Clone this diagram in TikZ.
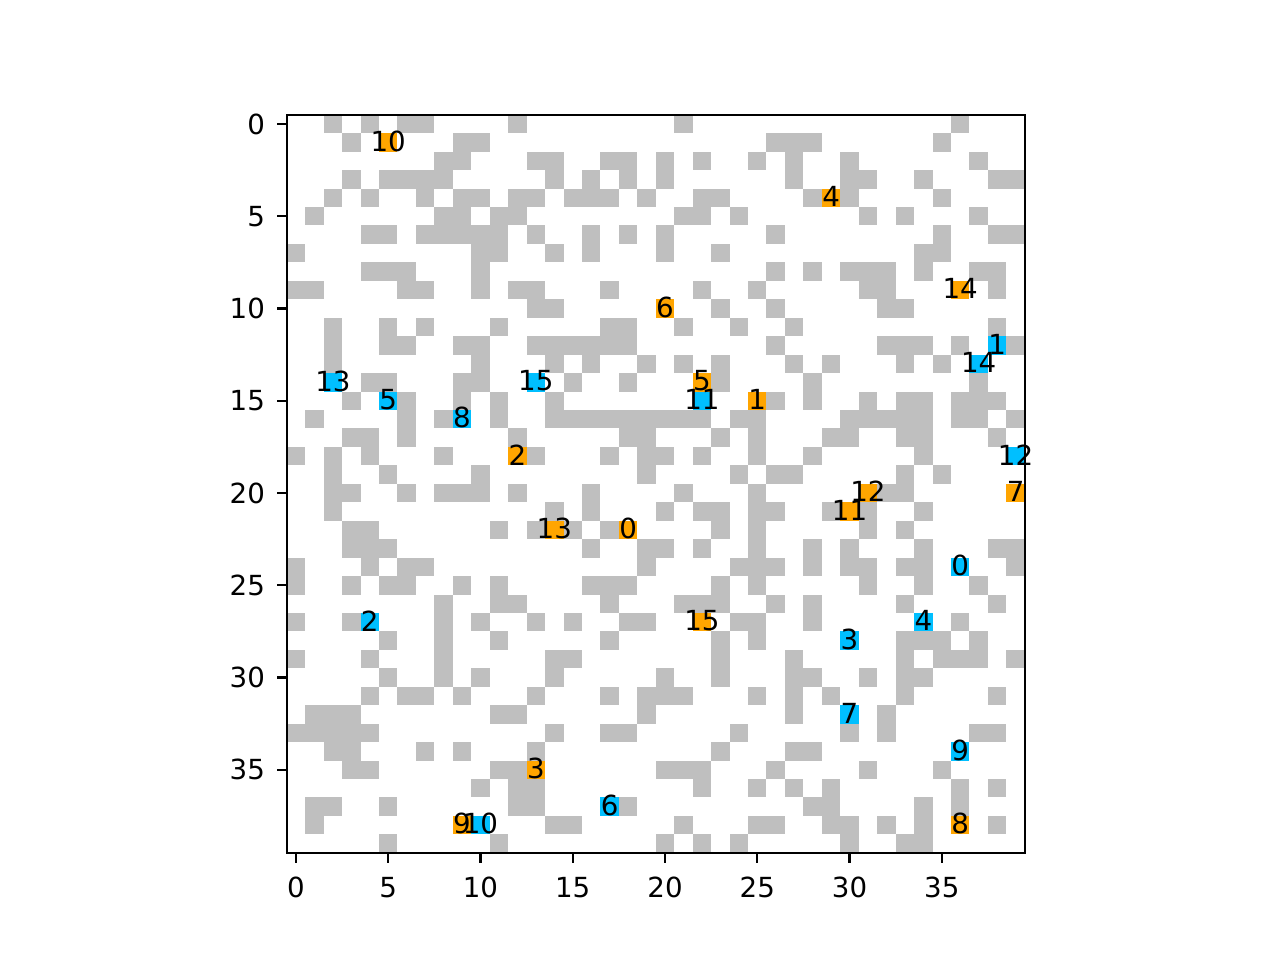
\documentclass[tikz,border=0pt]{standalone}
\usepackage{fontspec}
\setmainfont{DejaVu Sans}
\usepackage{tikz}
\definecolor{obstgray}{RGB}{191,191,191}
\definecolor{startorange}{RGB}{255,165,0}
\definecolor{goalblue}{RGB}{0,191,255}
\tikzset{
    obst/.style={fill=obstgray},
    startcell/.style={fill=startorange},
    goalcell/.style={fill=goalblue},
    celllabel/.style={inner sep=0pt, yshift=0.5pt, font=\fontsize{10}{12}\selectfont},
    ticklabel/.style={inner sep=0pt, font=\fontsize{10}{12}\selectfont},
    axisline/.style={line width=0.8pt, black}
}

\begin{document}
\begin{tikzpicture}[x=0.23432cm, y=-0.23432cm]
    \useasboundingbox (-16.04,-6.72) rectangle (53.33,45.31);
    % obstacles, one row at a time
    \foreach \r/\cs in {
        0/{2,4,6,7,12,21,36},
        1/{3,9,10,26,27,28,35},
        2/{8,9,13,14,17,18,20,22,25,27,30,37},
        3/{3,5,6,7,8,14,16,18,20,27,30,31,34,38,39},
        4/{2,4,7,9,10,12,13,15,16,17,19,22,23,28,30,35},
        5/{1,8,9,11,12,21,22,24,31,33,37},
        6/{4,5,7,8,9,10,11,13,16,18,20,26,35,38,39},
        7/{0,10,11,14,16,20,23,34,35},
        8/{4,5,6,10,26,28,30,31,32,34,37,38},
        9/{0,1,6,7,10,12,13,17,22,25,31,32,38},
        10/{13,14,23,26,32,33},
        11/{2,5,7,11,17,18,21,24,27,38},
        12/{2,5,6,9,10,13,14,15,16,17,18,26,32,33,34,36,39},
        13/{2,10,14,16,19,21,23,27,29,33,35},
        14/{4,5,9,10,15,18,23,28,37},
        15/{3,6,9,11,14,26,28,31,33,34,36,37,38},
        16/{1,6,8,11,14,15,16,17,18,19,20,21,22,24,25,30,31,32,33,34,36,37,39},
        17/{3,4,6,12,18,19,23,25,29,30,33,34,38},
        18/{0,2,4,8,13,17,19,20,22,25,28,34},
        19/{2,5,10,19,24,26,27,33,35},
        20/{2,3,6,8,9,10,12,16,21,25,32,33},
        21/{2,14,16,20,22,23,25,26,29,31,34},
        22/{3,4,11,13,15,17,23,25,31,33},
        23/{3,4,5,16,19,20,22,25,28,30,34,38,39},
        24/{0,4,6,7,19,24,25,26,28,30,31,33,34,39},
        25/{0,3,5,6,9,11,16,17,18,23,25,31,34,37},
        26/{8,11,12,17,21,22,23,26,28,33,38},
        27/{0,3,8,10,13,15,18,19,24,25,28,36},
        28/{5,8,11,17,23,25,33,34,35,37},
        29/{0,4,8,14,15,23,27,33,35,36,37,39},
        30/{5,8,10,14,20,23,27,28,31,33,34},
        31/{4,6,7,9,13,17,19,20,21,25,27,29,33,38},
        32/{1,2,3,11,12,19,27,32},
        33/{0,1,2,3,4,14,17,18,24,30,32,37,38},
        34/{2,3,7,9,13,23,27,28},
        35/{3,4,11,12,20,21,22,26,31,35},
        36/{10,12,13,22,25,27,29,36,38},
        37/{1,2,5,12,13,18,28,29,34,36},
        38/{1,14,15,21,25,26,29,30,32,34,38},
        39/{5,11,20,22,24,30,33,34}} {
        \foreach \c in \cs
            \fill[obst] (\c-0.5,\r-0.5) rectangle ++(1,1);
    }
    % start cells (orange) and goal cells (blue)
    \foreach \c/\r in {18/22,25/15,12/18,13/35,29/4,22/14,20/10,39/20,36/38,9/38,5/1,30/21,31/20,14/22,36/9,22/27}
        \fill[startcell] (\c-0.5,\r-0.5) rectangle ++(1,1);
    \foreach \c/\r in {36/24,38/12,4/27,30/28,34/27,5/15,17/37,30/32,9/16,36/34,10/38,22/15,39/18,2/14,37/13,13/14}
        \fill[goalcell] (\c-0.5,\r-0.5) rectangle ++(1,1);
    \foreach \c/\r [count=\k from 0] in {18/22,25/15,12/18,13/35,29/4,22/14,20/10,39/20,36/38,9/38,5/1,30/21,31/20,14/22,36/9,22/27}
        \node[celllabel] (s\k) at (\c,\r) {\k};
    \foreach \c/\r [count=\k from 0] in {36/24,38/12,4/27,30/28,34/27,5/15,17/37,30/32,9/16,36/34,10/38,22/15,39/18,2/14,37/13,13/14}
        \node[celllabel] (g\k) at (\c,\r) {\k};
    % frame and ticks
    \draw[axisline] (-0.5,-0.5) rectangle (39.5,39.5);
    \foreach \t in {0,5,...,35} {
        \coordinate (xt\t) at (\t,39.5);
        \coordinate (yt\t) at (-0.5,\t);
        \draw[axisline] (xt\t) -- ++(0,-3.5pt) node[ticklabel, below=4.9pt] (xl\t) {\t};
        \draw[axisline] (yt\t) -- ++(-3.5pt,0) node[ticklabel, left=4pt] (yl\t) {\t};
    }
\end{tikzpicture}
\end{document}
